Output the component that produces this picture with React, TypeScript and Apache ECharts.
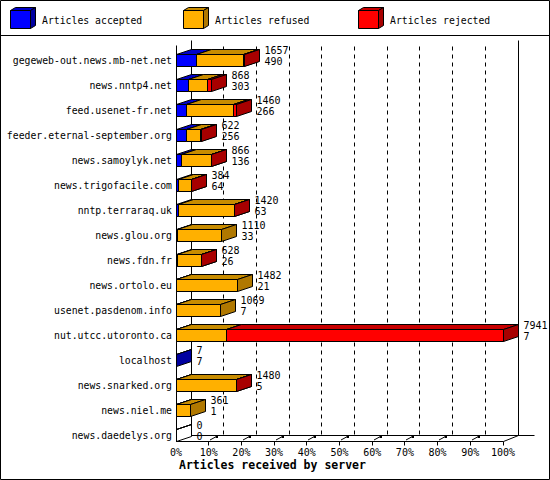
import React, { useEffect, useRef } from 'react'
import * as echarts from 'echarts'

// servers, top to bottom
const servers = [
  'gegeweb-out.news.mb-net.net',
  'news.nntp4.net',
  'feed.usenet-fr.net',
  'feeder.eternal-september.org',
  'news.samoylyk.net',
  'news.trigofacile.com',
  'nntp.terraraq.uk',
  'news.glou.org',
  'news.fdn.fr',
  'news.ortolo.eu',
  'usenet.pasdenom.info',
  'nut.utcc.utoronto.ca',
  'localhost',
  'news.snarked.org',
  'news.niel.me',
  'news.daedelys.org',
]
const accepted = [490, 303, 266, 256, 136, 64, 63, 33, 26, 21, 7, 7, 7, 5, 1, 0]
const refused = [1157, 457, 1126, 351, 715, 315, 1352, 1077, 598, 1461, 1062, 1224, 0, 1470, 360, 0]
const rejected = [10, 108, 68, 15, 15, 5, 5, 0, 4, 0, 0, 6710, 0, 5, 0, 0]
const tickPercents = [0, 10, 20, 30, 40, 50, 60, 70, 80, 90, 100]

const legendNames = ['Articles accepted', 'Articles refused', 'Articles rejected']
const palette = [
  { front: '#0000ff', top: '#0000c8', side: '#0000a0' },
  { front: '#ffb000', top: '#c88c00', side: '#b07800' },
  { front: '#ff0000', top: '#c80000', side: '#a80000' },
]

const FONT = 'DejaVu Sans Mono'
const DX = 15
const DY = 5
const HALF = 6

const totals = servers.map((_, i) => accepted[i] + refused[i] + rejected[i])
const maxTotal = Math.max(...totals)
const pct = (v: number) => (v / maxTotal) * 100
const snap = (v: number) => Math.floor(v) + 0.5

function barSeries(idx: number, start: number[], end: number[], always: boolean) {
  const c = palette[idx]
  return {
    type: 'custom',
    name: legendNames[idx],
    data: servers.map((_, i) => [pct(start[i]), pct(end[i]), i, end[i] - start[i]]),
    encode: { x: [0, 1], y: 2 },
    renderItem: (params: any, api: any) => {
      const empty = api.value(3) <= 0
      if (empty && !always) return null
      const a = api.coord([api.value(0), api.value(2)])
      const b = api.coord([api.value(1), api.value(2)])
      const l = snap(a[0])
      const r = snap(b[0])
      const t = snap(a[1] - HALF)
      const bt = snap(a[1] + HALF)
      const stroke = { stroke: '#000', lineWidth: 1 }
      // an empty bar is drawn as outlines only
      const fill = (col: string) => (empty ? 'none' : col)
      return {
        type: 'group',
        children: [
          { type: 'polygon', shape: { points: [[l, t], [r, t], [r, bt], [l, bt]] }, style: { fill: fill(c.front), ...stroke } },
          { type: 'polygon', shape: { points: [[l, t], [l + DX, t - DY], [r + DX, t - DY], [r, t]] }, style: { fill: fill(c.top), ...stroke } },
          { type: 'polygon', shape: { points: [[r, t], [r + DX, t - DY], [r + DX, bt - DY], [r, bt]] }, style: { fill: fill(c.side), ...stroke } },
        ],
      }
    },
  }
}

export default function App(): JSX.Element {
  const chartRef = useRef<HTMLDivElement>(null)

  useEffect(() => {
    if (!chartRef.current) return
    const chart = echarts.init(chartRef.current, null, { renderer: 'svg' })

    const accEnd = accepted
    const refEnd = servers.map((_, i) => accepted[i] + refused[i])
    const zeros = servers.map(() => 0)

    const legend = legendNames.map((name, i) => {
      const x = [10, 183, 358][i]
      const c = palette[i]
      return {
        type: 'group',
        children: [
          { type: 'polygon', shape: { points: [[x + 0.5, 10.5], [x + 20.5, 10.5], [x + 20.5, 28.5], [x + 0.5, 28.5]] }, style: { fill: c.front, stroke: '#000' } },
          { type: 'polygon', shape: { points: [[x + 0.5, 10.5], [x + 5.5, 7.5], [x + 25.5, 7.5], [x + 20.5, 10.5]] }, style: { fill: c.top, stroke: '#000' } },
          { type: 'polygon', shape: { points: [[x + 20.5, 10.5], [x + 25.5, 7.5], [x + 25.5, 25.5], [x + 20.5, 28.5]] }, style: { fill: c.side, stroke: '#000' } },
          { type: 'text', style: { x: x + 32, y: 20, text: name, fill: '#000', font: `9.8px "${FONT}"`, verticalAlign: 'middle' } },
        ],
      }
    })

    chart.setOption({
      animation: false,
      backgroundColor: '#fff',
      title: {
        text: 'Articles received by server',
        left: 179,
        top: 459,
        padding: 0,
        textStyle: { fontFamily: FONT, fontSize: 11.5, fontWeight: 'bold', color: '#000' },
      },
      grid: { left: 176, top: 47.5, width: 327, height: 400, containLabel: false },
      xAxis: {
        type: 'value',
        min: tickPercents[0],
        max: tickPercents[tickPercents.length - 1],
        interval: 10,
        axisLine: { show: false },
        axisTick: { show: false },
        splitLine: { show: false },
        axisLabel: { formatter: '{value}%', margin: 0, color: '#000', fontFamily: FONT, fontSize: 10 },
      },
      yAxis: {
        type: 'category',
        data: servers,
        inverse: true,
        axisLine: { show: false },
        axisTick: { show: false },
        axisLabel: { margin: 4, color: '#000', fontFamily: FONT, fontSize: 9.8 },
      },
      graphic: [
        { type: 'rect', shape: { x: 0.5, y: 0.5, width: 549, height: 479 }, style: { fill: 'none', stroke: '#000' }, z: 10 },
        { type: 'line', shape: { x1: 0, y1: 35.5, x2: 550, y2: 35.5 }, style: { stroke: '#000' } },
        ...legend,
      ],
      series: [
        {
          // 3D frame: walls, floor, dashed grid and ticks
          type: 'custom',
          data: [[0, 0]],
          encode: { x: 0, y: 1 },
          silent: true,
          renderItem: (params: any, api: any) => {
            const n = servers.length
            const px = (p: number) => snap(api.coord([p, 0])[0])
            const cy0 = api.coord([0, 0])[1]
            const cyN = api.coord([0, n - 1])[1]
            const frontY = snap(cyN + HALF)
            const backY = frontY - 6
            const backTop = snap(cy0 - 20)
            const frontTop = snap(cy0 - 15)
            const x0 = px(0)
            const x100 = px(100)
            const line = (x1: number, y1: number, x2: number, y2: number, dash?: number[]) => ({
              type: 'line',
              shape: { x1, y1, x2, y2 },
              style: { stroke: '#000', lineWidth: 1, lineDash: dash },
            })
            const kids: any[] = [
              line(x0 + DX, backTop, x0 + DX, backY),
              line(x100 + DX, backTop, x100 + DX, backY),
              line(x0 + DX, backY, x100 + DX + 16, backY),
              line(x0, frontTop, x0, frontY),
              line(x0, frontY, x100, frontY),
              line(x100, frontY, x100 + DX, backY),
            ]
            tickPercents.forEach((p) => {
              if (p === 0) return
              const x = px(p)
              kids.push(line(x, frontY, x, frontY + 4))
              if (p < 100) {
                kids.push(line(x + 1.5, frontY - 1.5, x + 7, frontY - 4.5))
                kids.push({ type: 'rect', shape: { x: x + 7, y: backY, width: 2.5, height: 2.5 }, style: { fill: '#000' } })
                kids.push(line(x + DX, backTop + 6, x + DX, backY, [4, 4]))
              }
            })
            return { type: 'group', children: kids }
          },
        },
        barSeries(0, zeros, accEnd, true),
        barSeries(1, accEnd, refEnd, false),
        barSeries(2, refEnd, totals, false),
        {
          // value labels: total above, accepted below
          type: 'custom',
          data: servers.map((_, i) => [pct(totals[i]), i, totals[i], accepted[i]]),
          encode: { x: 0, y: 1 },
          renderItem: (params: any, api: any) => {
            const p = api.coord([api.value(0), api.value(1)])
            const x = snap(p[0]) + DX + 5
            const font = `10px "${FONT}"`
            return {
              type: 'group',
              children: [
                { type: 'text', style: { x, y: p[1] - 10, text: String(api.value(2)), fill: '#000', font, verticalAlign: 'middle' } },
                { type: 'text', style: { x, y: p[1] + 1.5, text: String(api.value(3)), fill: '#000', font, verticalAlign: 'middle' } },
              ],
            }
          },
        },
      ],
    })

    return () => {
      chart.dispose()
    }
  }, [])

  return (
    <div
      ref={chartRef}
      style={{ position: 'absolute', left: 0, top: 0, width: 550, height: 480, background: '#fff' }}
    />
  )
}
